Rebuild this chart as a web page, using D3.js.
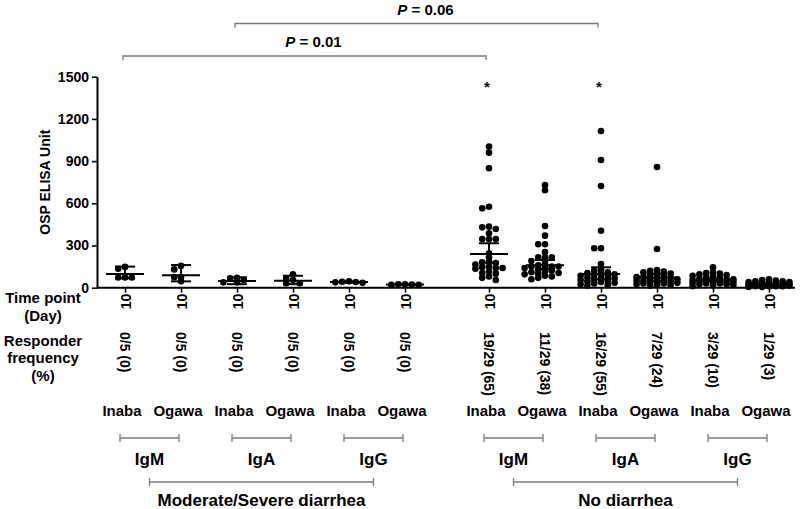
<!DOCTYPE html>
<html><head><meta charset="utf-8">
<script src="https://cdn.jsdelivr.net/npm/d3@7"></script>
<style>
body{margin:0;background:#fff}
svg text{font-family:"Liberation Sans",Arial,Helvetica,sans-serif;font-weight:bold;fill:#000}
</style>
</head><body>
<svg id="chart" width="800" height="509"></svg>
<script>
// ---------- data ----------
const groups = ["Moderate/Severe diarrhea", "No diarrhea"];
const isotypes = ["IgM", "IgA", "IgG"];
const serotypes = ["Inaba", "Ogawa"];
const timePoint = "10";
const yTicks = [0, 300, 600, 900, 1200, 1500];
const yTitle = "OSP ELISA Unit";

const responders = [
  "0/5 (0)", "0/5 (0)", "0/5 (0)", "0/5 (0)", "0/5 (0)", "0/5 (0)",
  "19/29 (65)", "11/29 (38)", "16/29 (55)", "7/29 (24)", "3/29 (10)", "1/29 (3)"
];

// one array of values per column (group → isotype → serotype)
const msIgMInaba = [148, 135, 72, 72, 72];
const msIgMOgawa = [155, 130, 75, 75, 45];
const msIgAInaba = [71, 55, 38, 38, 67];
const msIgAOgawa = [95, 55, 31, 31, 67];
const msIgGInaba = [45, 40, 38, 35, 42];
const msIgGOgawa = [25, 22, 20, 20, 24];
const ndIgMInaba = [1003, 960, 849, 576, 564, 434, 429, 417, 387, 346, 346, 346,
  245, 215, 185, 180, 175, 165, 150, 145, 140, 140, 135, 115, 105, 100, 80, 70, 55];
const ndIgMOgawa = [729, 693, 439, 370, 309, 309, 254, 216, 216, 216,
  190, 175, 160, 150, 150, 150, 145, 140, 130, 120, 115, 110, 105, 100, 95, 85, 80, 70, 60];
const ndIgAInaba = [1114, 908, 723, 405, 280, 280, 168,
  130, 120, 110, 105, 100, 95, 90, 85, 80, 75, 70, 65, 60, 55, 50, 45, 40, 35, 30, 25, 20, 15];
const ndIgAOgawa = [858, 275,
  125, 120, 115, 110, 100, 95, 90, 85, 80, 75, 70, 65, 60, 60, 55, 50, 50, 45, 40, 40, 35, 30, 30, 25, 20, 20, 15];
const ndIgGInaba = [145,
  110, 105, 100, 95, 90, 85, 80, 75, 70, 65, 60, 60, 55, 50, 50, 45, 45, 40, 40, 35, 35, 30, 30, 25, 25, 20, 15, 10];
const ndIgGOgawa = [60, 55, 50, 45, 45, 40, 40, 35, 35, 30, 30, 30, 25, 25, 25,
  20, 20, 20, 20, 15, 15, 15, 15, 10, 10, 10, 10, 5, 5];

const columnValues = [msIgMInaba, msIgMOgawa, msIgAInaba, msIgAOgawa, msIgGInaba, msIgGOgawa,
  ndIgMInaba, ndIgMOgawa, ndIgAInaba, ndIgAOgawa, ndIgGInaba, ndIgGOgawa];

// central line and error-bar ends
const centers = [97, 88, 48, 50, 40, 22, 240, 159, 97, 72, 55, 25];
const errLow  = [67, 45, 25, 25, 35, 19, 178, 133, 60, 45, 45, 20];
const errHigh = [150, 161, 74, 85, 45, 25, 316, 197, 145, 100, 65, 30];

// significance brackets (column indices)
const pFrom = [0, 2];
const pTo = [6, 8];
const pLabels = ["0.01", "0.06"];
const starCols = [6, 8];

// ---------- layout ----------
const svg = d3.select("#chart");
svg.append("rect").attr("width", 800).attr("height", 509).attr("fill", "#fff");

const y = d3.scaleLinear().domain([0, 1500]).range([287.7, 76.7]);
const outer = d3.scaleBand().domain(groups).range([97, 797]).paddingInner(0.077);
const inner = d3.scalePoint().domain(d3.range(6)).range([0, outer.bandwidth()]).padding(0.5);
const colX = i => outer(groups[Math.floor(i / 6)]) + inner(i % 6);
const colIds = d3.range(12);
const xOrd = d3.scaleOrdinal().domain(colIds).range(colIds.map(colX));

const gray = "#7a7a7a";

// y axis
const yAx = svg.append("g").attr("transform", "translate(97,0)")
  .call(d3.axisLeft(y).tickValues(yTicks).tickFormat(d3.format("d")).tickSize(5).tickSizeOuter(0).tickPadding(3));
yAx.select(".domain").attr("stroke", "#000").attr("stroke-width", 2);
yAx.selectAll(".tick line").attr("stroke", "#000").attr("stroke-width", 1.6);
yAx.selectAll(".tick text").style("font-size", "14px").attr("font-family", null);

svg.append("text").attr("transform", `translate(50,${(76.7 + 287.7) / 2}) rotate(-90)`)
  .attr("text-anchor", "middle").style("font-size", "14px").text(yTitle);

// x axis
svg.append("line").attr("x1", 97).attr("x2", 795).attr("y1", y(0)).attr("y2", y(0))
  .attr("stroke", "#000").attr("stroke-width", 2);
const xAx = svg.append("g").attr("transform", `translate(0,${y(0)})`)
  .call(d3.axisBottom(xOrd).tickSize(5).tickFormat(() => timePoint));
xAx.select(".domain").remove();
xAx.selectAll(".tick line").attr("stroke", "#000").attr("stroke-width", 1.6);
xAx.selectAll(".tick text").attr("transform", "rotate(-90)")
  .attr("x", -6).attr("y", 0).attr("dy", "0.36em").attr("text-anchor", "end")
  .style("font-size", "14px").attr("font-family", null);

// responder frequency labels
svg.selectAll(".resp").data(responders).join("text")
  .attr("transform", (d, i) => `translate(${colX(i)},332) rotate(90)`)
  .attr("dy", "0.36em").attr("text-anchor", "start").style("font-size", "14px").text(d => d);

// left labels
const leftLabels = [["Time point", 298], ["(Day)", 316], ["Responder", 341], ["frequency", 358], ["(%)", 376]];
svg.selectAll(".left").data(leftLabels).join("text")
  .attr("x", 43).attr("y", d => d[1]).attr("dy", "0.36em").attr("text-anchor", "middle")
  .style("font-size", "15px").text(d => d[0]);

// serotype labels
svg.selectAll(".sero").data(colIds).join("text")
  .attr("x", i => colX(i) - 3).attr("y", 411).attr("dy", "0.36em").attr("text-anchor", "middle")
  .style("font-size", "15px").text(i => serotypes[i % 2]);

// isotype brackets + labels
const pairs = d3.range(6);
const pairG = svg.append("g");
pairs.forEach(p => {
  const x1 = colX(p * 2) - 5, x2 = colX(p * 2 + 1) - 2, yy = 438;
  pairG.append("path").attr("d", `M${x1},${yy - 4}V${yy + 4}M${x1},${yy}H${x2}M${x2},${yy - 4}V${yy + 4}`)
    .attr("stroke", gray).attr("stroke-width", 1.3).attr("fill", "none");
  pairG.append("text").attr("x", (x1 + x2) / 2).attr("y", 459).attr("dy", "0.36em")
    .attr("text-anchor", "middle").style("font-size", "17px").text(isotypes[p % 3]);
});

// group brackets + labels
groups.forEach((g, gi) => {
  const x1 = (colX(gi * 6) - 5 + colX(gi * 6 + 1) - 2) / 2;
  const x2 = (colX(gi * 6 + 4) - 5 + colX(gi * 6 + 5) - 2) / 2;
  const yy = 482;
  svg.append("path").attr("d", `M${x1},${yy - 4}V${yy + 4}M${x1},${yy}H${x2}M${x2},${yy - 4}V${yy + 4}`)
    .attr("stroke", gray).attr("stroke-width", 1.3).attr("fill", "none");
  svg.append("text").attr("x", (x1 + x2) / 2).attr("y", 500).attr("dy", "0.36em")
    .attr("text-anchor", "middle").style("font-size", "17px").text(g);
});

// significance brackets
const bracketY = [56, 23.5];
pFrom.forEach((f, k) => {
  const x1 = colX(f) - 2, x2 = colX(pTo[k]) - 3, yy = bracketY[k];
  svg.append("path").attr("d", `M${x1},${yy + 4}V${yy}H${x2}V${yy + 4}`)
    .attr("stroke", gray).attr("stroke-width", 1.3).attr("fill", "none");
  const t = svg.append("text").attr("x", (x1 + x2) / 2 + 9).attr("y", yy - 9)
    .attr("text-anchor", "middle").style("font-size", "15px");
  t.append("tspan").style("font-style", "italic").text("P");
  t.append("tspan").text(" = " + pLabels[k]);
});

// asterisks
svg.selectAll(".star").data(starCols).join("text")
  .attr("x", i => colX(i) - 2).attr("y", 92).attr("text-anchor", "middle")
  .style("font-size", "15px").text("*");

// ---------- dots (beeswarm, overlapping allowed like the original) ----------
const r = 3.3, step = 6.8, minDist = 4.2, maxK = 6;
function swarm(vals) {
  const placed = [];
  const sorted = vals.slice().sort((a, b) => b - a);
  sorted.forEach(v => {
    const py = y(v);
    let best = null, bestD = -1;
    for (let k = 0; k <= maxK; k++) {
      const off = k === 0 ? 0 : (k % 2 ? -Math.ceil(k / 2) : Math.ceil(k / 2)) * step;
      const d = placed.length ? d3.min(placed, q => Math.hypot(q.dx - off, q.py - py)) : Infinity;
      if (d >= minDist) { best = off; bestD = d; break; }
      if (d > bestD) { bestD = d; best = off; }
    }
    placed.push({ dx: best, py, v });
  });
  return placed;
}

columnValues.forEach((vals, i) => {
  const cx = colX(i);
  const g = svg.append("g");
  g.selectAll("circle").data(swarm(vals)).join("circle")
    .attr("cx", d => cx + d.dx).attr("cy", d => y(d.v)).attr("r", r).attr("fill", "#000");
  // central line and error bars
  g.append("line").attr("x1", cx - 19).attr("x2", cx + 19).attr("y1", y(centers[i])).attr("y2", y(centers[i]))
    .attr("stroke", "#000").attr("stroke-width", 2);
  g.append("line").attr("x1", cx).attr("x2", cx).attr("y1", y(errLow[i])).attr("y2", y(errHigh[i]))
    .attr("stroke", "#000").attr("stroke-width", 2);
  [errLow[i], errHigh[i]].forEach(v => g.append("line").attr("x1", cx - 10).attr("x2", cx + 10)
    .attr("y1", y(v)).attr("y2", y(v)).attr("stroke", "#000").attr("stroke-width", 2));
});
</script>
</body></html>
